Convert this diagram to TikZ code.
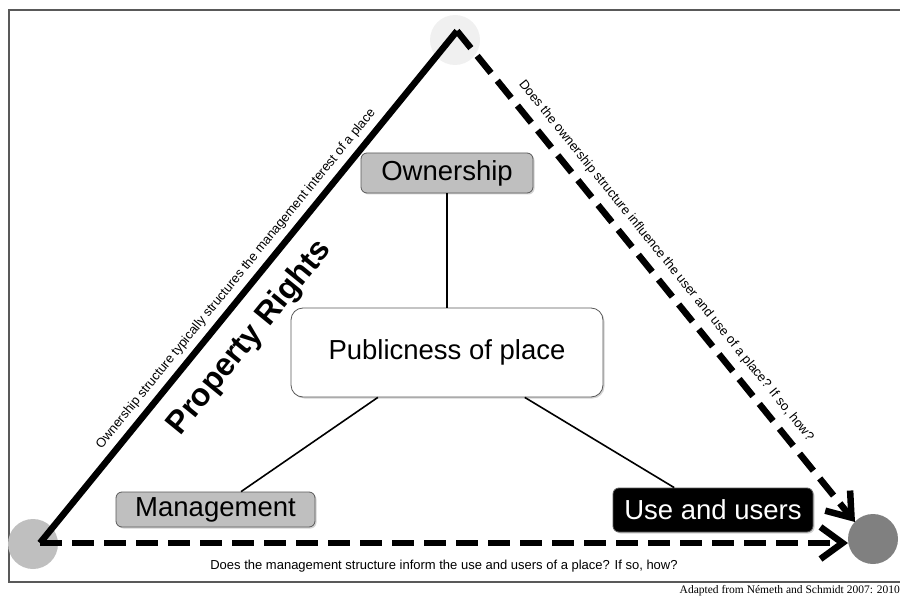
\documentclass[tikz,border=0pt]{standalone}
\usepackage{fontspec}
\setmainfont{Liberation Sans}
\newfontfamily\creditfont{Liberation Serif}
\usetikzlibrary{arrows.meta,shadows}
\begin{document}
\begin{tikzpicture}[x=1pt,y=-1pt,
  box/.style={rounded corners=6pt, draw=black!65, line width=0.8pt, inner sep=0pt,
    font=\fontsize{27.5}{31}\selectfont,
    drop shadow={shadow xshift=1.5pt, shadow yshift=-1.5pt, opacity=0.35}},
  graybox/.style={box, fill=black!25},
  vertexdot/.style={circle, inner sep=0pt, minimum size=50pt},
  thickline/.style={line width=6.5pt},
  dashline/.style={line width=6.5pt, dash pattern=on 22pt off 10pt,
    -{Straight Barb[length=22pt,width=32pt]}},
  thinline/.style={line width=1.6pt},
  smalltext/.style={inner sep=0pt, font=\fontsize{13}{15}\selectfont}
]
\useasboundingbox (0,0) rectangle (900,599);
\draw[black!65, line width=1.2pt] (900,10) -- (9,10) -- (9,582) -- (900,582);

\node[vertexdot, fill=black!6] (ct) at (455,40) {};
\node[vertexdot, fill=black!25] (cl) at (33,544) {};
\node[vertexdot, fill=black!50] (cr) at (873,539) {};

\coordinate (A) at (457,31);
\coordinate (B) at (40,543);
\coordinate (Ct) at (855,522);
\coordinate (Ch) at (848,543);

\draw[thickline] (B) -- (A);
\draw[dashline] (A) -- (Ct);
\draw[dashline] (B) -- (Ch);

\node[graybox, minimum width=172pt, minimum height=40pt] (own) at (447,173) {Ownership};
\node[box, fill=white, rounded corners=12pt, minimum width=312pt, minimum height=89pt] (pub) at (447,352.5) {Publicness of place};
\node[graybox, minimum width=199pt, minimum height=35pt] (man) at (215.5,509.5) {Management};
\node[box, fill=black, text=white, minimum width=200pt, minimum height=44pt] (use) at (713,510) {Use and users};

\draw[thinline] (own.south) -- (pub.north);
\draw[thinline] (pub.213.6) -- (man.35.5);
\draw[thinline] (pub.-30.4) -- (use.150);

\node[smalltext, rotate=50.84] (t1) at (236,279) {Ownership structure typically structures the management interest of a place};
\node[inner sep=0pt, rotate=50.84, font=\bfseries\fontsize{32}{36}\selectfont] (t2) at (250,338) {Property Rights};
\node[smalltext, rotate=-50.97] (t3) at (666,261) {Does the ownership structure influence the user and use of a place? If so, how?};
\node[smalltext] (t4) at (444,566) {Does the management structure inform the use and users of a place? If so, how?};
\node[inner sep=0pt, anchor=east, font=\creditfont\fontsize{11.5}{13}\selectfont] (t5) at (900,591) {Adapted from Németh and Schmidt 2007: 2010};
\end{tikzpicture}
\end{document}
